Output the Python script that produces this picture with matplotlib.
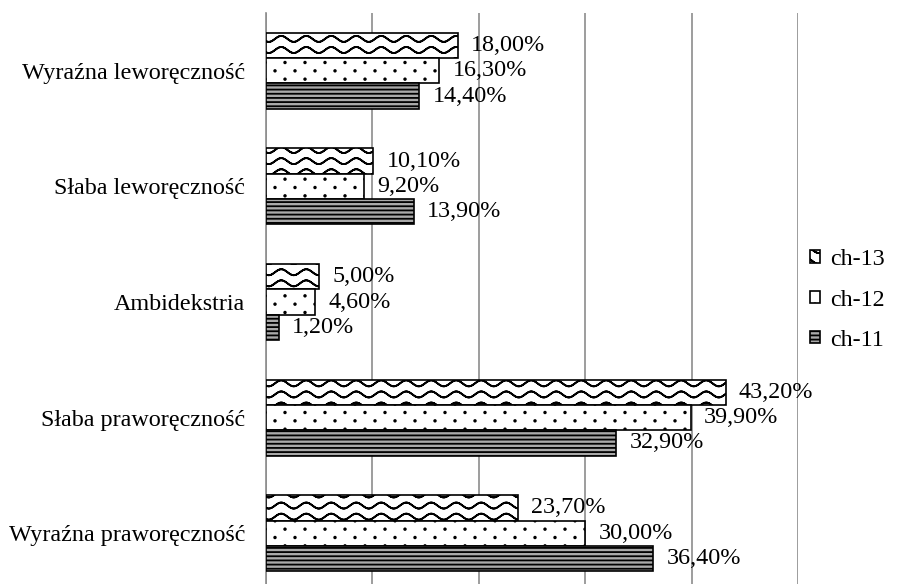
import warnings
warnings.filterwarnings("ignore")
import numpy as np
import matplotlib
matplotlib.use("Agg")
import matplotlib.pyplot as plt
import matplotlib.hatch as mhatch
from matplotlib.path import Path

categories = ["Wyraźna leworęczność", "Słaba leworęczność", "Ambidekstria",
              "Słaba praworęczność", "Wyraźna praworęczność"]
series_names = ["ch-13", "ch-12", "ch-11"]
ch13 = [18.0, 10.1, 5.0, 43.2, 23.7]
ch12 = [16.3, 9.2, 4.6, 39.9, 30.0]
ch11 = [14.4, 13.9, 1.2, 32.9, 36.4]


class WaveHatch(mhatch.HatchPatternBase):
    """Wavy lines pattern, triggered by '~'."""
    npts = 80

    def __init__(self, hatch, density):
        self.rows = hatch.count('~') * 9
        self.periods = 4
        self.num_vertices = self.rows * self.npts * 2

    def set_vertices_and_codes(self, vertices, codes):
        x = np.linspace(0, 1, self.npts)
        amp = 0.03
        n = self.npts
        for i in range(self.rows):
            y0 = (i + 0.5) / self.rows
            y = y0 + amp * np.sin(2 * np.pi * self.periods * x)
            seg = np.column_stack([x, y])
            both = np.vstack([seg, seg[::-1]])
            vertices[i * 2 * n:(i + 1) * 2 * n] = both
            c = np.full(2 * n, Path.LINETO, dtype=Path.code_type)
            c[0] = Path.MOVETO
            codes[i * 2 * n:(i + 1) * 2 * n] = c


class DotHatch(mhatch.HatchPatternBase):
    """Sparse staggered dots, triggered by ':'."""

    def __init__(self, hatch, density):
        k = hatch.count(':')
        self.rows = 12 * k
        self.cols = 5 * k
        circ = Path.unit_circle()
        self.cv = circ.vertices
        self.cc = circ.codes
        self.num_vertices = self.rows * self.cols * len(self.cv) if k else 0

    def set_vertices_and_codes(self, vertices, codes):
        r = 0.008
        m = len(self.cv)
        idx = 0
        for i in range(self.rows):
            y = (i + 0.5) / self.rows
            shift = 0.5 if i % 2 else 0.0
            for j in range(self.cols):
                x = (j + 0.25 + shift) / self.cols
                vertices[idx:idx + m] = self.cv * r + [x, y]
                codes[idx:idx + m] = self.cc
                idx += m


mhatch._hatch_types.append(WaveHatch)
mhatch._hatch_types.append(DotHatch)

plt.rcParams['font.family'] = ['Liberation Serif', 'DejaVu Serif']
plt.rcParams['hatch.linewidth'] = 1.3
plt.rcParams['hatch.color'] = 'black'

FS = 17.4
fig = plt.figure(figsize=(9.11, 5.84), dpi=100)
ax = fig.add_axes([266 / 911, (584 - 591) / 584, (798 - 266) / 911, 578 / 584])

y = np.arange(len(categories))
h = 0.219
specs = [
    (ch13, "ch-13", -h, "white", "~"),
    (ch12, "ch-12", 0.0, "white", ":"),
    (ch11, "ch-11", h, "#a9a9a9", "----"),
]
handles = {}
for vals, name, off, fc, hatch in specs:
    bars = ax.barh(y + off, vals, height=h, color=fc, edgecolor="black",
                   linewidth=1.2, hatch=hatch, zorder=3)
    handles[name] = bars
    for yy, v in zip(y + off, vals):
        ax.annotate(f"{v:.2f}%".replace('.', ','), xy=(v, yy),
                    xytext=(9.5, 0), textcoords="offset points",
                    ha="left", va="center", fontsize=FS, color="black",
                    zorder=4)

ax.set_xlim(0, 50)
ax.set_ylim(len(categories) - 0.5, -0.5)
ax.set_xticks([0, 10, 20, 30, 40, 50])
ax.set_xticklabels([])
ax.tick_params(axis='x', length=0)
ax.set_yticks(y)
ax.set_yticklabels(categories, fontsize=FS)
ax.tick_params(axis='y', length=0, pad=15)
ax.grid(axis='x', color="#8c8c8c", linewidth=1.2, zorder=0)
for s in ["top", "right", "bottom"]:
    ax.spines[s].set_visible(False)
ax.spines["left"].set_color("#8c8c8c")
ax.spines["left"].set_linewidth(1.2)
ax.set_axisbelow(True)

leg = fig.legend([handles[n] for n in series_names], series_names,
                 loc="center left", bbox_to_anchor=(810 / 911, 1 - 300 / 584),
                 frameon=False, fontsize=FS, handlelength=0.42,
                 handleheight=0.42, handletextpad=0.4, labelspacing=0.8,
                 borderpad=0, borderaxespad=0)

fig.savefig("out.png", dpi=100)
